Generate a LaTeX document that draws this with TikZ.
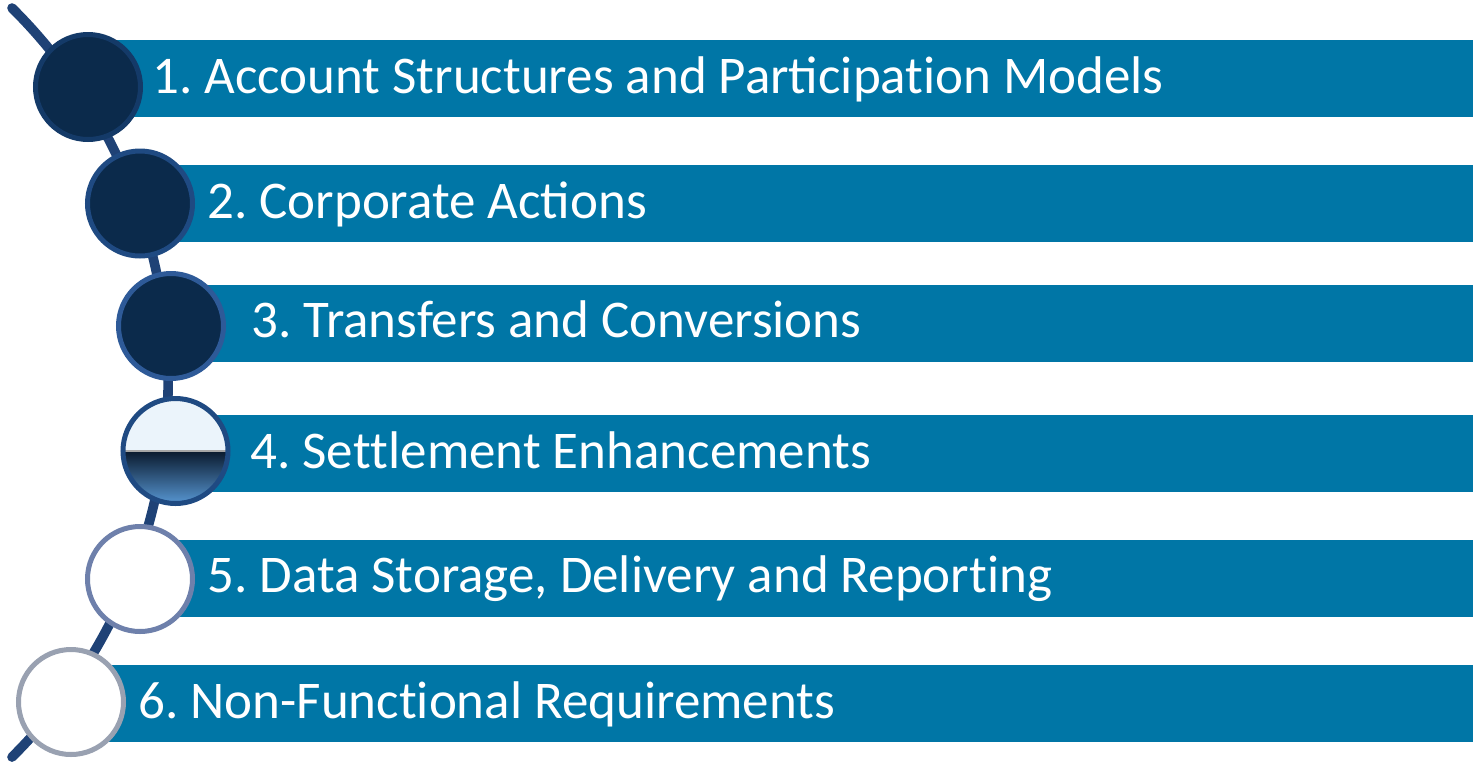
\documentclass[tikz,border=0pt]{standalone}
\usepackage{fontspec}
\setmainfont{Carlito}
\usetikzlibrary{calc}
\definecolor{barblue}{RGB}{0,118,166}
\definecolor{navy}{RGB}{11,42,75}
\definecolor{rimA}{RGB}{20,58,104}
\definecolor{rimB}{RGB}{31,74,130}
\definecolor{rimC}{RGB}{46,90,152}
\definecolor{rimE}{RGB}{110,128,171}
\definecolor{rimF}{RGB}{153,161,177}
\definecolor{curve}{RGB}{31,66,118}
\definecolor{paleblue}{RGB}{235,244,251}
\newcommand\nolig{\kern0pt{}}

\begin{document}
\begin{tikzpicture}[x=0.5pt,y=-0.5pt,
	bar/.style={fill=barblue},
	dot/.style={circle,draw,line width=2.5pt,minimum size=52.5pt,inner sep=0pt},
	itemtext/.style={anchor=base west,inner sep=0pt,text=white,font=\fontsize{26.5}{30}\selectfont}]
				\useasboundingbox (0,0) rectangle (1473,761);
				% Bandes
				\fill [bar] (88,40) rectangle (1473,117);
				\fill [bar] (140,165) rectangle (1473,242);
				\fill [bar] (171,285) rectangle (1473,362);
				\fill [bar] (175,415) rectangle (1473,492);
				\fill [bar] (140,540) rectangle (1473,617);
				\fill [bar] (71,665) rectangle (1473,742);
				% Arc
				\draw [curve,line width=4.8pt,line cap=round] (12,8) arc[start angle=45.25,end angle=-45.25,radius=263.7pt];
				% Cercles
				\node [dot,fill=navy,draw=rimA] (c1) at (88,87) {};
				\node [dot,fill=navy,draw=rimB] (c2) at (140,203.5) {};
				\node [dot,fill=navy,draw=rimC] (c3) at (171,326) {};
				\begin{scope}
					\clip (175.5,451) circle[radius=26.25pt];
					\fill [paleblue] (120,395) rectangle (232,451);
					\shade [top color={rgb,255:red,10;green,26;blue,46},middle color={rgb,255:red,38;green,78;blue,128},bottom color={rgb,255:red,92;green,158;blue,220}] (120,451) rectangle (232,507);
					\draw [gray!70,line width=0.6pt] (120,451) -- (232,451);
				\end{scope}
				\node [dot,draw=rimB] (c4) at (175.5,451) {};
				\node [dot,fill=white,draw=rimE] (c5) at (140,579) {};
				\node [dot,fill=white,draw=rimF] (c6) at (71,702) {};
				% Textes
				\node [itemtext] (t1) at (152,93) {1.\kern-2pt{} Account Structures and Participat\nolig ion Models};
				\node [itemtext] (t2) at (207,218) {2.\kern-2pt{} Corporate Actions};
				\node [itemtext] (t3) at (251,337) {3.\kern-2pt{} Transfers and Conversions};
				\node [itemtext] (t4) at (250,468) {4.\kern-2pt{} Set\nolig tlement Enhancements};
				\node [itemtext] (t5) at (207,592.5) {5.\kern-2pt{} Data Storage, Delivery and Report\nolig ing};
				\node [itemtext] (t6) at (138,718) {6.\kern-2pt{} Non-Funct\nolig ional Requirements};
\end{tikzpicture}
\end{document}
